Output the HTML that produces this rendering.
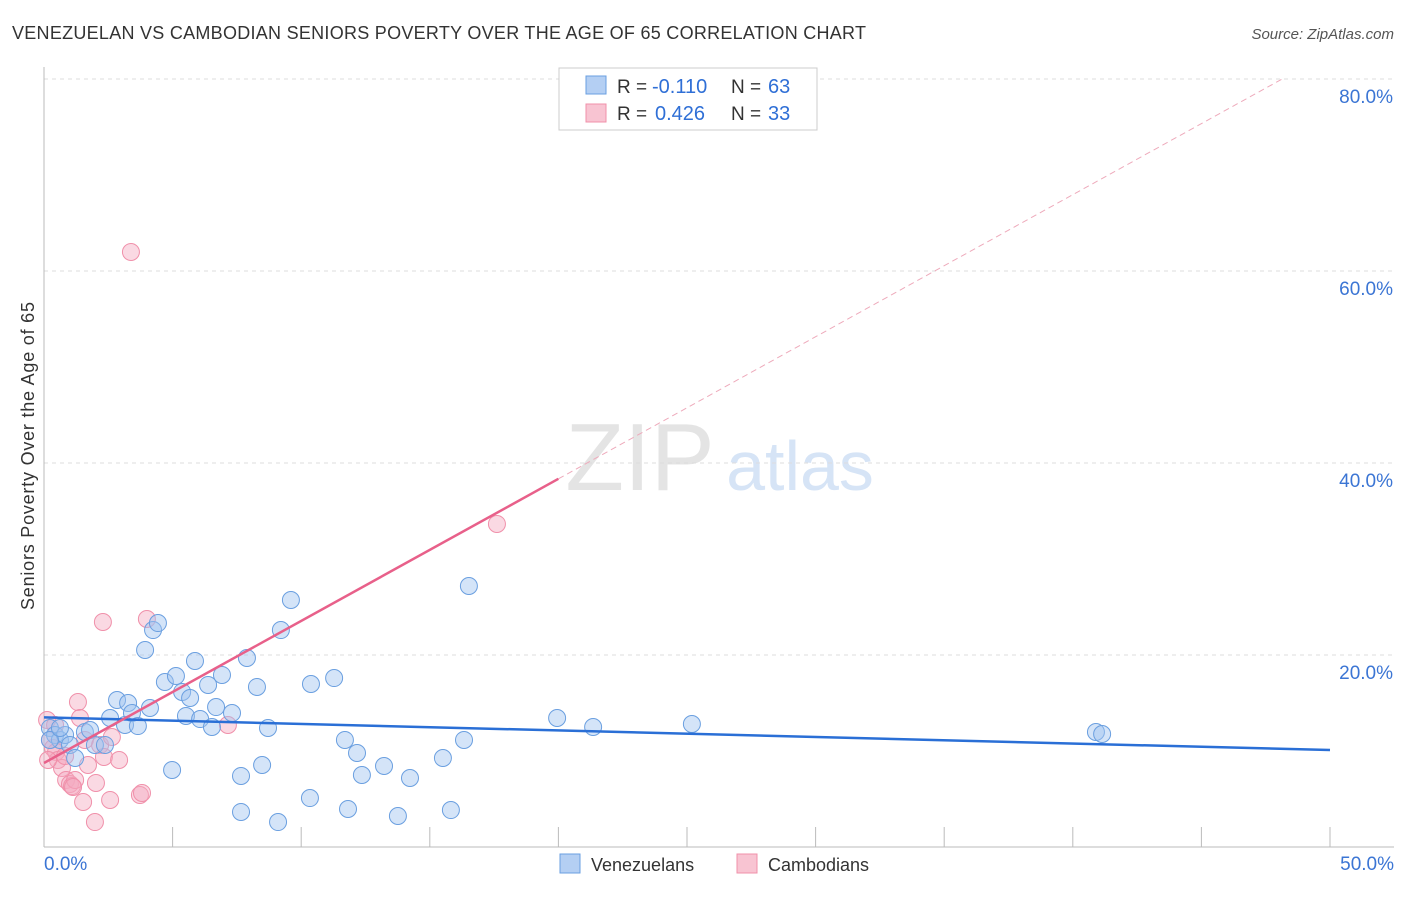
<!DOCTYPE html>
<html><head><meta charset="utf-8"><style>
body{margin:0;background:#fff;font-family:"Liberation Sans",sans-serif}
text{font-family:"Liberation Sans",sans-serif}
</style></head><body>
<svg id="chart" width="1406" height="892">
<text x="12" y="39" font-size="18" fill="#333" textLength="854">VENEZUELAN VS CAMBODIAN SENIORS POVERTY OVER THE AGE OF 65 CORRELATION CHART</text>
<text x="1394" y="39" font-size="15" fill="#555" font-style="italic" text-anchor="end">Source: ZipAtlas.com</text>
<text x="640" y="490" font-size="96" fill="#e4e4e4" font-family="Liberation Serif" text-anchor="middle">ZIP</text>
<text x="800" y="490" font-size="70" fill="#d6e4f6" text-anchor="middle">atlas</text>
<g id="grid"></g><g id="axes"></g><g id="marks"></g>
<text transform="translate(34,456) rotate(-90)" font-size="18" fill="#333" text-anchor="middle" textLength="308">Seniors Poverty Over the Age of 65</text>
<g>
<rect x="559" y="68" width="258" height="62" fill="#fff" stroke="#ccc"/>
<rect x="586" y="76" width="20" height="18" fill="#b4cff3" stroke="#6a9fe0"/>
<text x="617" y="93" font-size="19" fill="#333">R =</text>
<text x="652" y="93" font-size="20" fill="#2f6fd6">-0.110</text>
<text x="731" y="93" font-size="19" fill="#333">N =</text>
<text x="768" y="93" font-size="20" fill="#2f6fd6">63</text>
<rect x="586" y="104" width="20" height="18" fill="#f8c4d2" stroke="#f090aa"/>
<text x="617" y="120" font-size="19" fill="#333">R =</text>
<text x="655" y="120" font-size="20" fill="#2f6fd6">0.426</text>
<text x="731" y="120" font-size="19" fill="#333">N =</text>
<text x="768" y="120" font-size="20" fill="#2f6fd6">33</text>
</g>
<g>
<rect x="560" y="854" width="20" height="19" fill="#b4cff3" stroke="#6a9fe0"/>
<text x="591" y="871" font-size="18" fill="#333">Venezuelans</text>
<rect x="737" y="854" width="20" height="19" fill="#f8c4d2" stroke="#f090aa"/>
<text x="768" y="871" font-size="18" fill="#333">Cambodians</text>
</g>
</svg>
<script>
const yTicks=[20,40,60,80];
const xTickLabels=["0.0%","50.0%"];
const bluePx=[[50,728],[55,735],[60,740],[65,735],[70,745],[75,758],[85,732],[90,730],[95,745],[105,745],[110,718],[117,700],[125,725],[128,703],[132,713],[138,726],[150,708],[145,650],[153,630],[158,623],[165,682],[172,770],[176,676],[182,692],[186,716],[190,698],[195,661],[200,719],[208,685],[212,727],[216,707],[222,675],[232,713],[241,776],[241,812],[247,658],[257,687],[262,765],[268,728],[281,630],[291,600],[278,822],[310,798],[311,684],[334,678],[345,740],[348,809],[357,753],[362,775],[384,766],[398,816],[410,778],[443,758],[451,810],[464,740],[469,586],[557,718],[593,727],[692,724],[1096,732],[1102,734],[50,740],[60,728]];
const pinkPx=[[47,720],[50,740],[53,748],[56,752],[58,760],[62,768],[66,780],[70,784],[72,786],[75,780],[78,702],[80,718],[85,740],[88,765],[83,802],[96,783],[100,745],[103,622],[104,757],[110,800],[112,737],[119,760],[131,252],[140,795],[142,793],[147,619],[228,725],[497,524],[55,725],[65,756],[73,787],[95,822],[48,760]];
// convert picture-read positions into data values (% units)
const blueX=bluePx.map(p=>+((p[0]-44)/25.72).toFixed(2));
const blueY=bluePx.map(p=>+((847-p[1])/9.6).toFixed(2));
const pinkX=pinkPx.map(p=>+((p[0]-44)/25.72).toFixed(2));
const pinkY=pinkPx.map(p=>+((847-p[1])/9.6).toFixed(2));
const blueTrend=[13.5,10.1];
const pinkTrend=[8.75,1.48];
const X=v=>44+v*25.72, Y=v=>847-v*9.6;
const NS="http://www.w3.org/2000/svg";
function mk(t,a,parent){const e=document.createElementNS(NS,t);for(const k in a)e.setAttribute(k,a[k]);document.getElementById(parent).appendChild(e);return e;}
for(const t of yTicks){
 const g=mk('line',{x1:44,x2:1394,y1:Y(t),y2:Y(t),stroke:'#ddd','stroke-dasharray':'4,4'},'grid');
 
 
 const l=mk('text',{x:1393,y:Y(t)+24,'font-size':19,fill:'#3b75d4','text-anchor':'end'},'axes');
 l.textContent=t.toFixed(1)+'%';
 
 
}
let a=mk('line',{x1:44,x2:44,y1:67,y2:847,stroke:'#bbb'},'axes');


a=mk('line',{x1:44,x2:1394,y1:847,y2:847,stroke:'#bbb'},'axes');


for(let i=1;i<=10;i++){const tk=mk('line',{x1:X(i*5),x2:X(i*5),y1:827,y2:847,stroke:'#bbb'},'axes');
 
 }
let t1=mk('text',{x:44,y:870,'font-size':19,fill:'#3b75d4'},'axes');t1.textContent=xTickLabels[0];


t1=mk('text',{x:1394,y:870,'font-size':19,fill:'#3b75d4','text-anchor':'end'},'axes');t1.textContent=xTickLabels[1];


pinkX.forEach((x,i)=>{const c=mk('circle',{cx:X(x),cy:Y(pinkY[i]),r:8.5,fill:'rgba(245,170,192,0.45)',stroke:'#f090aa','stroke-width':1},'marks');
 
 });
blueX.forEach((x,i)=>{const c=mk('circle',{cx:X(x),cy:Y(blueY[i]),r:8.5,fill:'rgba(160,196,240,0.45)',stroke:'#6a9fe0','stroke-width':1},'marks');
 
 });
let ln=mk('line',{x1:X(0),y1:Y(blueTrend[0]),x2:X(50),y2:Y(blueTrend[1]),stroke:'#2a6fd6','stroke-width':2.5},'marks');


const px=v=>pinkTrend[0]+pinkTrend[1]*v;
ln=mk('line',{x1:X(0),y1:Y(px(0)),x2:X(20),y2:Y(px(20)),stroke:'#e8608a','stroke-width':2.5},'marks');


const xe=(80-pinkTrend[0])/pinkTrend[1];
ln=mk('line',{x1:X(20),y1:Y(px(20)),x2:X(xe),y2:Y(80),stroke:'#eeaabb','stroke-width':1,'stroke-dasharray':'6,4'},'marks');


</script>
</body></html>
